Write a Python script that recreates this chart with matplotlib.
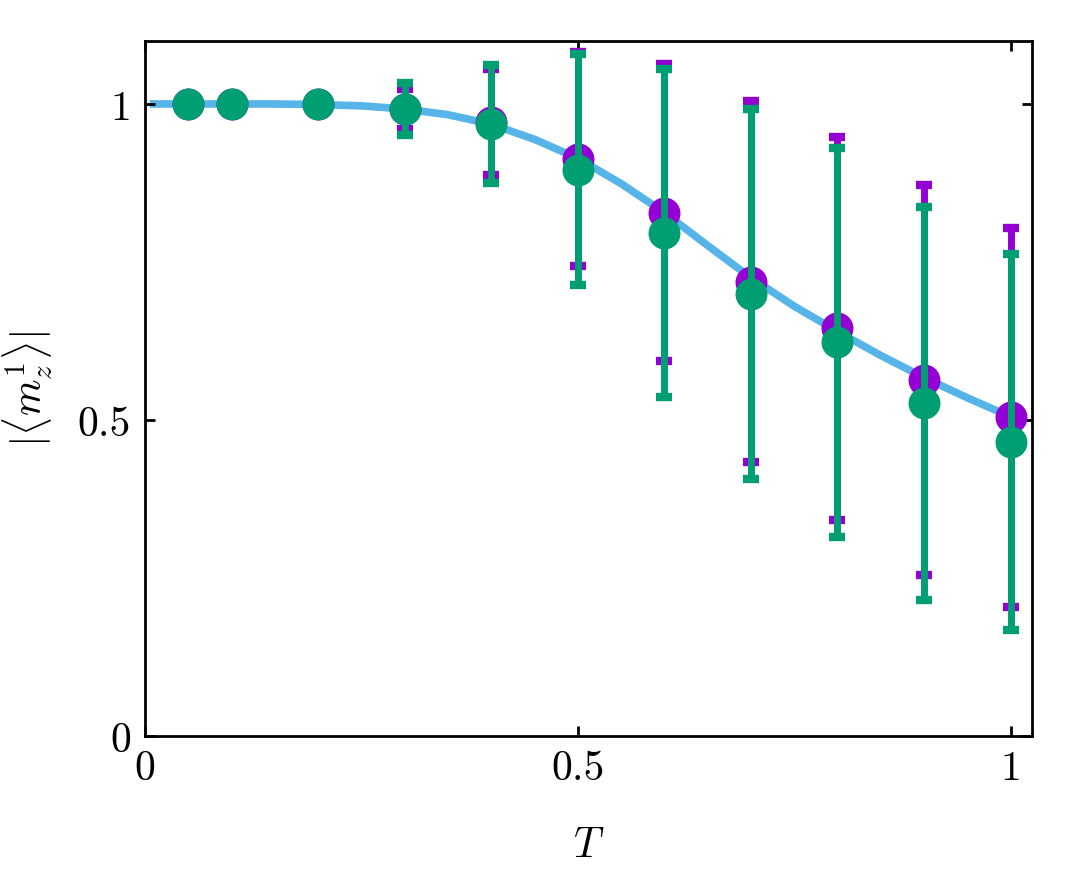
import matplotlib; matplotlib.use('agg')
import matplotlib.pyplot as plt
import numpy as np

plt.rcParams['font.family'] = 'serif'
plt.rcParams['font.serif'] = ['cmr10']
plt.rcParams['mathtext.fontset'] = 'cm'
plt.rcParams['axes.formatter.use_mathtext'] = True

# Messpunkte (lila und gruen)
T = [0.05, 0.1, 0.2, 0.3, 0.4, 0.5, 0.6, 0.7, 0.8, 0.9, 1.0]
m_lila = [1.0, 1.0, 1.0, 0.992, 0.971, 0.913, 0.828, 0.719, 0.645, 0.563, 0.504]
err_lila = [0.0, 0.0, 0.0, 0.031, 0.084, 0.169, 0.235, 0.285, 0.303, 0.308, 0.300]
m_gruen = [1.0, 1.0, 1.0, 0.992, 0.968, 0.896, 0.796, 0.699, 0.623, 0.526, 0.465]
err_gruen = [0.0, 0.0, 0.0, 0.041, 0.093, 0.183, 0.260, 0.293, 0.308, 0.311, 0.298]

# exakte Kurve
T_kurve = [0.01, 0.05, 0.1, 0.15, 0.2, 0.25, 0.3, 0.35, 0.4, 0.45, 0.5,
           0.55, 0.6, 0.65, 0.7, 0.75, 0.8, 0.85, 0.9, 0.95, 1.0]
m_kurve = [1.0, 1.0, 1.0, 1.0, 0.999, 0.997, 0.992, 0.983, 0.968, 0.944, 0.914,
           0.874, 0.828, 0.776, 0.725, 0.680, 0.640, 0.602, 0.567, 0.535, 0.505]

fig = plt.figure(figsize=(10.9, 8.7), dpi=100)
ax = fig.add_axes([0.133, 0.153, 0.814, 0.799])

ax.plot(T_kurve, m_kurve, '-', color='#56B4E9', lw=5.5, zorder=1,
        solid_joinstyle='round')
ax.errorbar(T, m_lila, yerr=err_lila, fmt='o', color='#9400D3', markersize=22,
            elinewidth=5, capsize=6, capthick=6, zorder=2)
ax.errorbar(T, m_gruen, yerr=err_gruen, fmt='o', color='#009E73', markersize=22,
            elinewidth=5, capsize=6, capthick=6, zorder=3)

ax.set_xlim(0, 1.025)
ax.set_ylim(0, 1.1)
ax.set_xticks([0, 0.5, 1])
ax.set_xticklabels(['0', '0.5', '1'])
ax.set_yticks([0, 0.5, 1])
ax.set_yticklabels(['0', '0.5', '1'])
ax.tick_params(direction='in', length=7, width=2, labelsize=30,
               top=True, right=True, pad=10)
for s in ax.spines.values():
    s.set_linewidth(2)

ax.set_xlabel('$T$', fontsize=30, labelpad=28)
ax.set_ylabel(r'$|\langle m_z^1 \rangle|$', fontsize=30, labelpad=16)

plt.savefig('out.png', dpi=100)
